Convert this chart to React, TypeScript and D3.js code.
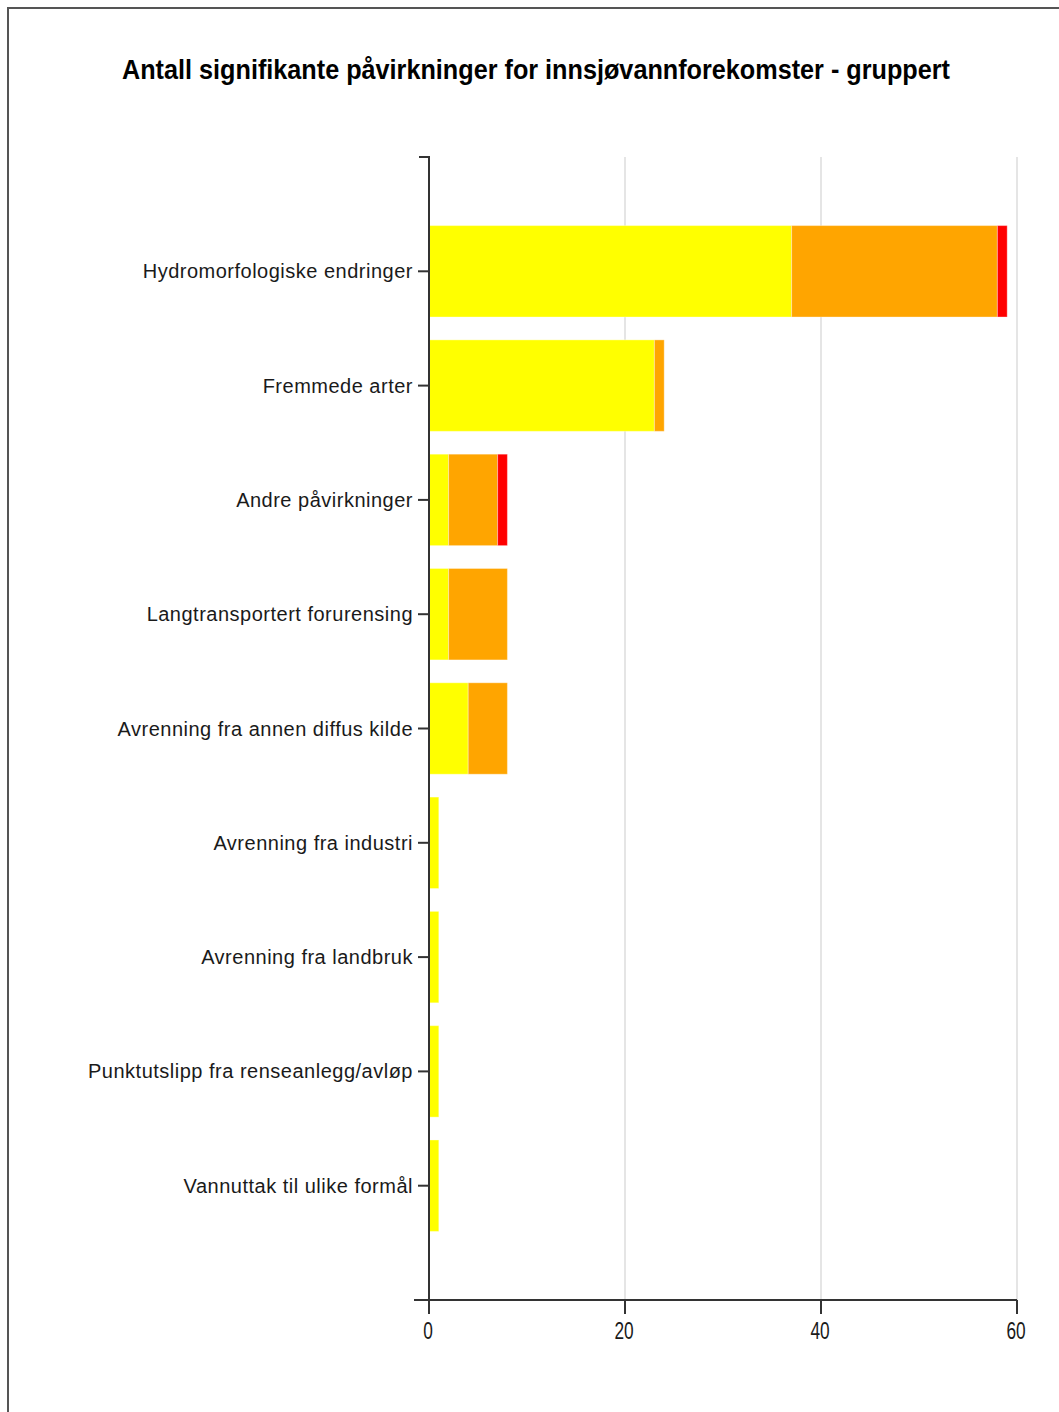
import React from "react";
import * as d3 from "d3";

const categories = [
  "Hydromorfologiske endringer",
  "Fremmede arter",
  "Andre påvirkninger",
  "Langtransportert forurensing",
  "Avrenning fra annen diffus kilde",
  "Avrenning fra industri",
  "Avrenning fra landbruk",
  "Punktutslipp fra renseanlegg/avløp",
  "Vannuttak til ulike formål",
];
const seriesKeys = ["yellow", "orange", "red"];
const yellowValues = [37, 23, 2, 2, 4, 1, 1, 1, 1];
const orangeValues = [21, 1, 5, 6, 4, 0, 0, 0, 0];
const redValues = [1, 0, 1, 0, 0, 0, 0, 0, 0];
const seriesColors = ["#FFFF00", "#FFA500", "#FF0000"];
const xTicks = [0, 20, 40, 60];
const title = "Antall signifikante påvirkninger for innsjøvannforekomster - gruppert";

const W = 1059;
const H = 1412;
const M = { left: 429, right: 1017, top: 157, bottom: 1300 };

export default function App() {
  const rows = categories.map((c, i) => ({
    cat: c,
    yellow: yellowValues[i],
    orange: orangeValues[i],
    red: redValues[i],
  }));
  const stack = d3.stack<any>().keys(seriesKeys)(rows);
  const x = d3.scaleLinear().domain([0, 60]).range([M.left, M.right]);
  const y = d3
    .scaleBand<string>()
    .domain(categories)
    .range([M.top, M.bottom])
    .paddingInner(0.2)
    .paddingOuter(0.6);

  const labelFont = "'Liberation Sans', Arial, sans-serif";
  const narrowFont = "'Liberation Sans Narrow', 'Arial Narrow', 'Liberation Sans', sans-serif";

  return (
    <svg
      width={W}
      height={H}
      style={{ position: "absolute", left: 0, top: 0, background: "#fff" }}
    >
      {/* frame */}
      <line x1={7} y1={8} x2={W} y2={8} stroke="#555" strokeWidth={2} />
      <line x1={8} y1={7} x2={8} y2={H} stroke="#555" strokeWidth={2} />

      <text
        x={536}
        y={79}
        textAnchor="middle"
        fontFamily={narrowFont}
        fontWeight="bold"
        fontSize={27}
        textLength={828}
        lengthAdjust="spacingAndGlyphs"
        fill="#000"
      >
        {title}
      </text>

      {/* grid */}
      {xTicks
        .filter((t) => t > 0)
        .map((t) => (
          <line
            key={"g" + t}
            x1={x(t)}
            x2={x(t)}
            y1={M.top}
            y2={M.bottom}
            stroke="#dcdcdc"
            strokeWidth={1.5}
          />
        ))}

      {/* bars */}
      {stack.map((s, si) => (
        <g key={s.key} fill={seriesColors[si]}>
          {s.map((d, i) =>
            d[1] - d[0] > 0 ? (
              <rect
                key={i}
                x={x(d[0])}
                y={y(categories[i])}
                width={x(d[1]) - x(d[0])}
                height={y.bandwidth()}
                stroke="#fff"
                strokeOpacity={0.35}
                strokeWidth={1}
              />
            ) : null
          )}
        </g>
      ))}

      {/* y axis */}
      <path
        d={`M${M.left - 10},${M.top}H${M.left}V${M.bottom}H${M.left - 15}`}
        fill="none"
        stroke="#333"
        strokeWidth={2}
      />
      {categories.map((c) => {
        const cy = (y(c) as number) + y.bandwidth() / 2;
        return (
          <g key={c}>
            <line x1={M.left - 11} x2={M.left} y1={cy} y2={cy} stroke="#333" strokeWidth={2} />
            <text
              x={M.left - 16}
              y={cy + 7}
              textAnchor="end"
              fontFamily={labelFont}
              fontSize={20}
              letterSpacing={0.5}
              fill="#1a1a1a"
            >
              {c}
            </text>
          </g>
        );
      })}

      {/* x axis */}
      <line x1={M.left} x2={M.right} y1={M.bottom} y2={M.bottom} stroke="#333" strokeWidth={2} />
      {xTicks.map((t) => (
        <g key={"t" + t}>
          <line x1={x(t)} x2={x(t)} y1={M.bottom} y2={M.bottom + 14} stroke="#333" strokeWidth={2} />
          <g transform={`translate(${x(t) - 1},${M.bottom + 39}) scale(0.72,1)`}>
            <text
              x={0}
              y={0}
              textAnchor="middle"
              fontFamily={narrowFont}
              fontSize={24}
              fill="#1a1a1a"
            >
              {t}
            </text>
          </g>
        </g>
      ))}
    </svg>
  );
}
